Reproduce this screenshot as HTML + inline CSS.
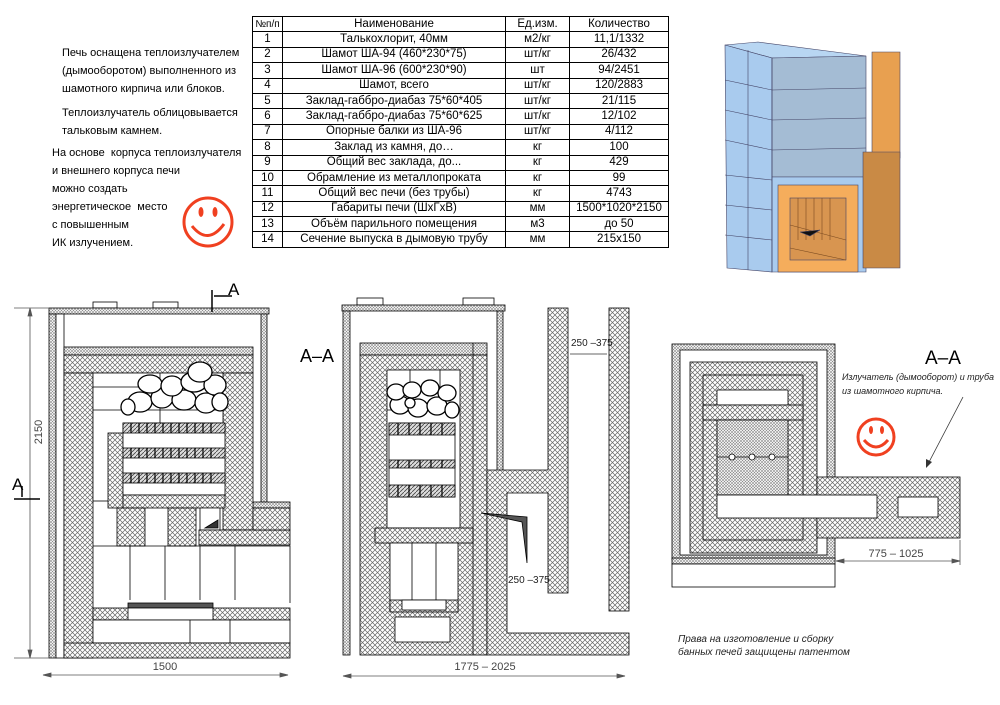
<!DOCTYPE html>
<html><head><meta charset="utf-8"><style>
body{margin:0;width:1000px;height:705px;background:#fff;position:relative;overflow:hidden;font-family:"Liberation Sans",sans-serif;}
#tbl{position:absolute;left:252px;top:16px;border-collapse:collapse;font-size:11.5px;}
#tbl td{border:1px solid #000;height:14.4px;padding:0;text-align:center;line-height:13px;white-space:nowrap;}
.lt{position:absolute;font-size:11px;line-height:18px;color:#000;}
svg{position:absolute;left:0;top:0;}
</style></head><body>
<div class="lt" style="left:62px;top:44px;">Печь оснащена теплоизлучателем<br>(дымооборотом) выполненного из<br>шамотного кирпича или блоков.</div>
<div class="lt" style="left:62px;top:104px;">Теплоизлучатель облицовывается<br>тальковым камнем.</div>
<div class="lt" style="left:52px;top:144px;">На основе &nbsp;корпуса теплоизлучателя<br>и внешнего корпуса печи<br>можно создать<br>энергетическое &nbsp;место<br>с повышенным<br>ИК излучением.</div>
<table id="tbl">
<colgroup><col style="width:30px"><col style="width:223px"><col style="width:64px"><col style="width:99px"></colgroup>
<tr><td style="font-size:10px">№п/п</td><td>Наименование</td><td>Ед.изм.</td><td>Количество</td></tr>
<tr><td>1</td><td>Талькохлорит, 40мм</td><td>м2/кг</td><td>11,1/1332</td></tr>
<tr><td>2</td><td>Шамот ША-94 (460*230*75)</td><td>шт/кг</td><td>26/432</td></tr>
<tr><td>3</td><td>Шамот ША-96 (600*230*90)</td><td>шт</td><td>94/2451</td></tr>
<tr><td>4</td><td>Шамот, всего</td><td>шт/кг</td><td>120/2883</td></tr>
<tr><td>5</td><td>Заклад-габбро-диабаз 75*60*405</td><td>шт/кг</td><td>21/115</td></tr>
<tr><td>6</td><td>Заклад-габбро-диабаз 75*60*625</td><td>шт/кг</td><td>12/102</td></tr>
<tr><td>7</td><td>Опорные балки из ША-96</td><td>шт/кг</td><td>4/112</td></tr>
<tr><td>8</td><td>Заклад из камня, до…</td><td>кг</td><td>100</td></tr>
<tr><td>9</td><td>Общий вес заклада, до...</td><td>кг</td><td>429</td></tr>
<tr><td>10</td><td>Обрамление из металлопроката</td><td>кг</td><td>99</td></tr>
<tr><td>11</td><td>Общий вес печи (без трубы)</td><td>кг</td><td>4743</td></tr>
<tr><td>12</td><td>Габариты печи (ШхГхВ)</td><td>мм</td><td>1500*1020*2150</td></tr>
<tr><td>13</td><td>Объём парильного помещения</td><td>м3</td><td>до 50</td></tr>
<tr><td>14</td><td>Сечение выпуска в дымовую трубу</td><td>мм</td><td>215x150</td></tr>
</table>
<svg width="1000" height="705" viewBox="0 0 1000 705" font-family="Liberation Sans, sans-serif">
<defs>
<pattern id="x" width="5" height="5" patternUnits="userSpaceOnUse"><rect width="5" height="5" fill="#fff"/><path d="M0 0L5 5M5 0L0 5" stroke="#666" stroke-width="0.7"/></pattern>
<pattern id="d" width="3" height="3" patternUnits="userSpaceOnUse"><rect width="3" height="3" fill="#fff"/><path d="M0 0L3 3M3 0L0 3" stroke="#888" stroke-width="0.6"/></pattern>
<pattern id="h" width="4" height="4" patternUnits="userSpaceOnUse"><rect width="4" height="4" fill="#ddd"/><path d="M0 4L4 0" stroke="#444" stroke-width="0.8"/></pattern>
</defs>
<g fill="none" stroke="#f04020" stroke-width="3"><circle cx="208" cy="222" r="24"/><path d="M192 226Q208 246 224 224"/></g>
<g fill="#f04020"><ellipse cx="201" cy="212" rx="2.5" ry="5"/><ellipse cx="215" cy="212" rx="2.5" ry="5"/></g>
<g stroke="#446" stroke-width="0.6">
<polygon points="725,45 758,42 866,56 772,58" fill="#b8d6f2"/>
<polygon points="725,45 772,58 772,272 727,268" fill="#a9cbee"/>
<polygon points="772,58 866,56 866,177 772,177" fill="#a4bcd4"/>
<polygon points="772,177 866,177 866,272 772,272" fill="#a9cbee"/>
<path d="M725,80L772,90L866,88M725,110L772,120L866,118M725,140L772,150L866,148M725,175L772,180M725,205L772,210M725,235L772,240M772,58V272M748,50V270" fill="none"/>
<polygon points="872,52 900,52 900,158 872,158" fill="#e8a050"/>
<polygon points="863,152 900,152 900,268 863,268" fill="#c98a45"/>
<rect x="778" y="185" width="80" height="87" fill="#f5ad5c"/>
<rect x="790" y="198" width="56" height="62" fill="#d89550"/>
<path d="M798,198V240M806,198V240M814,198V240M822,198V240M830,198V240M790,225L846,240M790,248L846,260" stroke="#7a4a20" fill="none"/>
<polygon points="800,232 820,230 810,236" fill="#111"/>
</g>
<g stroke="#000" stroke-width="0.8">
<rect x="93" y="302" width="24" height="6" fill="#fff"/><rect x="153" y="302" width="25" height="6" fill="#fff"/>
<rect x="49" y="308" width="220" height="6" fill="url(#d)"/>
<rect x="49" y="314" width="7" height="344" fill="url(#d)"/>
<rect x="261" y="314" width="6" height="188" fill="url(#d)"/>
<rect x="253" y="502" width="37" height="6" fill="url(#d)"/>
<rect x="56" y="314" width="8" height="344" fill="#fff"/>
<rect x="64" y="347" width="189" height="8" fill="url(#d)"/>
<rect x="64" y="355" width="189" height="18" fill="url(#x)"/>
<rect x="64" y="373" width="29" height="285" fill="url(#x)"/>
<rect x="223" y="373" width="30" height="157" fill="url(#x)"/>
<rect x="93" y="373" width="130" height="128" fill="#fff"/>
<path d="M93 387H223M93 410H223M160 373V500" fill="none"/>
<rect x="108" y="433" width="15" height="75" fill="url(#x)"/>
<rect x="123" y="423" width="102" height="72" fill="#fff"/>
<rect x="123" y="423" width="102" height="10" fill="url(#h)"/>
<rect x="123" y="448" width="102" height="10" fill="url(#h)"/>
<rect x="123" y="473" width="102" height="10" fill="url(#h)"/>
<path d="M131 423v10m8-10v10m8-10v10m8-10v10m8-10v10m8-10v10m8-10v10m8-10v10m8-10v10m8-10v10m8-10v10M131 448v10m8-10v10m8-10v10m8-10v10m8-10v10m8-10v10m8-10v10m8-10v10m8-10v10m8-10v10m8-10v10M131 473v10m8-10v10m8-10v10m8-10v10m8-10v10m8-10v10m8-10v10m8-10v10m8-10v10m8-10v10m8-10v10" stroke-width="1.2"/>
<rect x="123" y="495" width="102" height="13" fill="url(#x)"/>
<rect x="117" y="508" width="28" height="38" fill="url(#x)"/><rect x="168" y="508" width="28" height="38" fill="url(#x)"/>
<polygon points="200,508 220,508 220,530 200,530" fill="#fff"/><polygon points="205,528 218,520 218,528" fill="#333"/>
<rect x="199" y="530" width="91" height="15" fill="url(#x)"/>
<rect x="253" y="508" width="37" height="22" fill="url(#x)"/>
<path d="M93 546H290V603M130 546V600M165 546V600M200 546V600M235 546V600" fill="none"/>
<rect x="128" y="603" width="85" height="5" fill="#555"/>
<rect x="93" y="608" width="197" height="12" fill="url(#x)"/><rect x="128" y="608" width="85" height="12" fill="#fff"/>
<rect x="93" y="620" width="197" height="23" fill="#fff"/><path d="M190 620v23M230 620v23"/>
<rect x="64" y="643" width="226" height="15" fill="url(#x)"/>
<g fill="#fff" stroke-width="1.3"><ellipse cx="140" cy="402" rx="12" ry="10"/><ellipse cx="162" cy="398" rx="11" ry="10"/><ellipse cx="184" cy="400" rx="12" ry="10"/><ellipse cx="206" cy="403" rx="11" ry="10"/><ellipse cx="150" cy="384" rx="12" ry="9"/><ellipse cx="172" cy="386" rx="11" ry="10"/><ellipse cx="194" cy="382" rx="13" ry="10"/><ellipse cx="215" cy="385" rx="11" ry="10"/><ellipse cx="200" cy="372" rx="12" ry="10"/><ellipse cx="220" cy="402" rx="8" ry="9"/><ellipse cx="128" cy="407" rx="7" ry="8"/></g>
</g>
<g stroke="#555" stroke-width="0.8" fill="#555">
<path d="M30 308V658M43 675H288M14 308H49M14 658H49" fill="none"/>
<polygon points="30,308 28,316 32,316"/><polygon points="30,658 28,650 32,650"/>
<polygon points="43,675 51,673 51,677"/><polygon points="288,675 280,673 280,677"/>
</g>
<text x="42" y="432" font-size="11" fill="#444" transform="rotate(-90 42 432)" text-anchor="middle">2150</text>
<text x="165" y="670" font-size="11" fill="#444" text-anchor="middle">1500</text>
<text x="12" y="490" font-size="17">A</text><path d="M14 499H40M22 486V497" stroke="#000" stroke-width="1.5"/>
<text x="228" y="295" font-size="17">A</text><path d="M212 290V312M214 296H232" stroke="#000" stroke-width="1.5"/>
<text x="300" y="362" font-size="18">A–A</text>
<g stroke="#000" stroke-width="0.8">
<rect x="357" y="298" width="26" height="7" fill="#fff"/><rect x="463" y="298" width="31" height="7" fill="#fff"/>
<rect x="342" y="305" width="163" height="6" fill="url(#d)"/>
<rect x="343" y="311" width="7" height="344" fill="url(#d)"/>
<rect x="497" y="311" width="6" height="160" fill="url(#d)"/>
<rect x="360" y="343" width="127" height="12" fill="url(#d)"/>
<rect x="360" y="355" width="127" height="300" fill="url(#x)"/>
<rect x="387" y="370" width="73" height="158" fill="#fff"/>
<path d="M387 410H460M410 370V410M440 370V410" fill="none"/>
<rect x="389" y="423" width="66" height="74" fill="#fff"/>
<rect x="389" y="423" width="66" height="12" fill="url(#h)"/>
<rect x="389" y="460" width="66" height="8" fill="url(#h)"/>
<rect x="389" y="485" width="66" height="12" fill="url(#h)"/>
<path d="M398 423v12m11-12v12m11-12v12m11-12v12m11-12v12M398 460v8m11-8v8m11-8v8m11-8v8m11-8v8M398 485v12m11-12v12m11-12v12m11-12v12m11-12v12" stroke-width="1.2"/>
<rect x="375" y="528" width="98" height="15" fill="url(#x)"/>
<rect x="390" y="543" width="68" height="68" fill="#fff"/><path d="M412 543v57M436 543v57"/>
<rect x="390" y="600" width="68" height="12" fill="url(#x)"/><rect x="402" y="600" width="44" height="10" fill="#fff"/>
<rect x="395" y="617" width="55" height="25" fill="#fff"/>
<path d="M473 343V655"/>
<path d="M487 470H548V308H568V593H548V493H507V633H629V655H487Z" fill="url(#x)"/>
<rect x="609" y="308" width="20" height="303" fill="url(#x)"/>
<polygon points="481,513 527,517 527,563 522,522" fill="#555"/>
<g fill="#fff" stroke-width="1.3"><ellipse cx="400" cy="405" rx="10" ry="9"/><ellipse cx="418" cy="408" rx="10" ry="9"/><ellipse cx="437" cy="406" rx="10" ry="9"/><ellipse cx="452" cy="410" rx="7" ry="8"/><ellipse cx="396" cy="392" rx="9" ry="8"/><ellipse cx="412" cy="390" rx="9" ry="8"/><ellipse cx="430" cy="388" rx="9" ry="8"/><ellipse cx="447" cy="393" rx="9" ry="8"/><ellipse cx="410" cy="403" rx="5" ry="5"/></g>
</g>
<path d="M570 354H607" stroke="#333" stroke-width="0.7"/>
<text x="571" y="346" font-size="10" fill="#222">250 –375</text>
<text x="508" y="583" font-size="10" fill="#222">250 –375</text>
<g stroke="#555" stroke-width="0.8" fill="#555"><path d="M343 676H625"/><polygon points="343,676 351,674 351,678"/><polygon points="625,676 617,674 617,678"/></g>
<text x="485" y="670" font-size="11" fill="#444" text-anchor="middle">1775 – 2025</text>
<g stroke="#000" stroke-width="0.8">
<rect x="672" y="344" width="163" height="216" fill="url(#d)"/>
<rect x="680" y="350" width="147" height="205" fill="#fff"/>
<rect x="690" y="362" width="127" height="191" fill="url(#x)"/>
<rect x="703" y="375" width="100" height="165" fill="url(#x)"/>
<rect x="717" y="390" width="71" height="15" fill="#fff"/>
<rect x="703" y="405" width="100" height="15" fill="url(#x)"/>
<rect x="717" y="420" width="71" height="75" fill="url(#d)"/>
<path d="M717 457H788"/>
<circle cx="732" cy="457" r="3" fill="#fff"/><circle cx="752" cy="457" r="3" fill="#fff"/><circle cx="772" cy="457" r="3" fill="#fff"/>
<rect x="817" y="477" width="143" height="61" fill="url(#x)"/>
<rect x="717" y="495" width="160" height="23" fill="#fff"/>
<rect x="898" y="497" width="40" height="20" fill="#fff"/>
<rect x="672" y="558" width="163" height="6" fill="url(#d)"/>
<rect x="672" y="564" width="163" height="23" fill="#fff"/>
</g>
<g stroke="#555" stroke-width="0.8" fill="#555"><path d="M836 561H960M960 540V565"/><polygon points="836,561 844,559 844,563"/><polygon points="960,561 952,559 952,563"/></g>
<text x="896" y="557" font-size="11" fill="#444" text-anchor="middle">775 – 1025</text>
<text x="925" y="364" font-size="19">A–A</text>
<text x="842" y="380" font-size="9" font-style="italic" fill="#222" textLength="152" lengthAdjust="spacingAndGlyphs">Излучатель (дымооборот) и труба</text>
<text x="842" y="394" font-size="9" font-style="italic" fill="#222">из шамотного кирпича.</text>
<path d="M963 397L928 464" stroke="#333" stroke-width="0.8"/><polygon points="926,468 926,459 932,462" fill="#333"/>
<g fill="none" stroke="#f04020" stroke-width="3"><circle cx="876" cy="437" r="18"/><path d="M864 440Q876 454 888 440"/></g>
<g fill="#f04020"><ellipse cx="871" cy="430" rx="2" ry="4"/><ellipse cx="882" cy="430" rx="2" ry="4"/></g>
<text x="678" y="642" font-size="10" font-style="italic" fill="#222">Права на изготовление и сборку</text>
<text x="678" y="655" font-size="10" font-style="italic" fill="#222">банных печей защищены патентом</text>
</svg>
</body></html>
